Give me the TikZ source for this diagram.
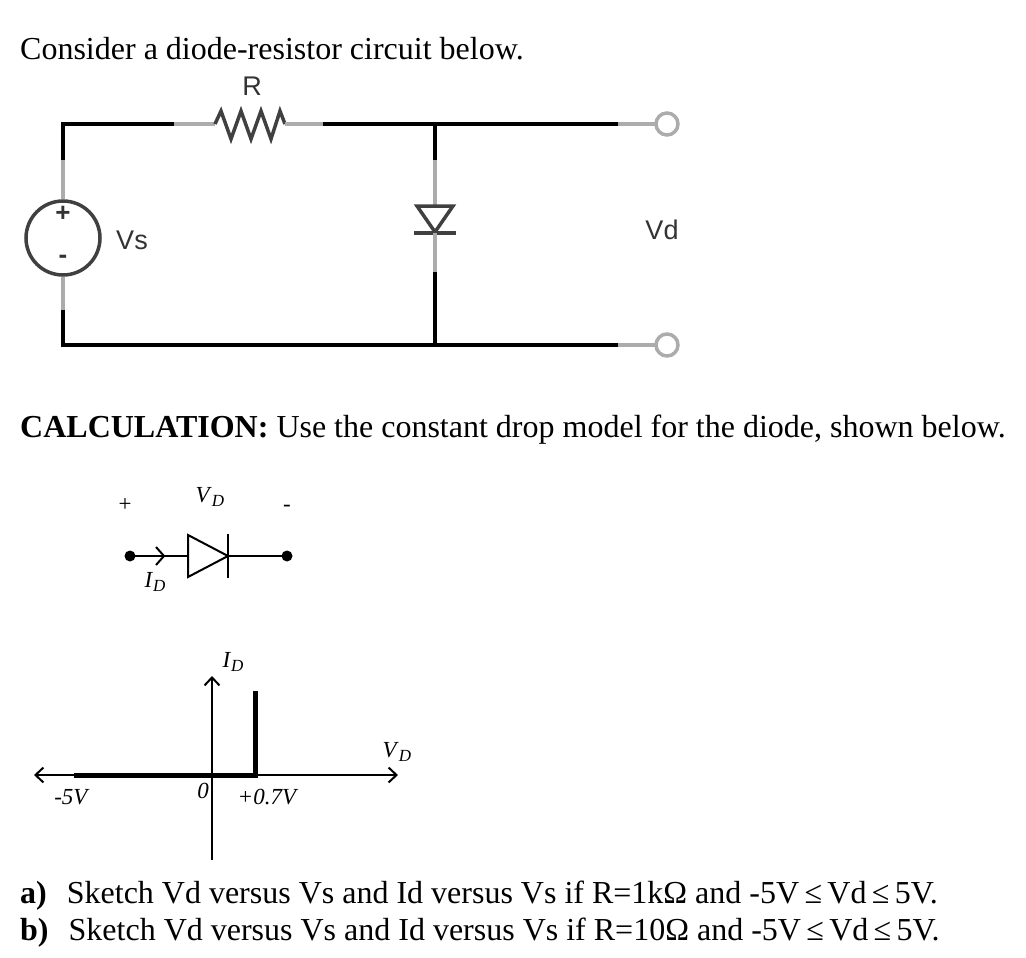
\documentclass[tikz,border=0pt]{standalone}
\usepackage{fontspec}
\setmainfont{Liberation Serif}
\newfontfamily\circfont{Liberation Sans}
\usetikzlibrary{arrows.meta,shapes.geometric}
\newcommand{\vsubs}[2]{\textit{#1}\raisebox{-0.35ex}{\fontsize{17}{17}\selectfont\textit{#2}}}
\begin{document}
\begin{tikzpicture}[x=1pt,y=-1pt,
  wire/.style={line width=4pt,black},
  lead/.style={line width=4pt,gray!65},
  sym/.style={line width=3.5pt,black!75},
  mw/.style={line width=2pt,black},
  big/.style={font=\fontsize{32}{34}\selectfont,inner sep=0pt},
  lab/.style={font=\circfont\fontsize{27}{28}\selectfont,inner sep=0pt,text=black!80},
  small/.style={font=\fontsize{23}{25}\selectfont,inner sep=0pt},
  barb/.style={line width=2pt,-{Straight Barb[length=8pt,width=15pt]}}]
\useasboundingbox (0,0) rectangle (1026,958);
\node[big,anchor=base west] (t1) at (20,60) {Consider a diode-resistor circuit below.};
% circuit
\coordinate (tl) at (63,124); \coordinate (bl) at (63,345);
\coordinate (jt) at (435,124); \coordinate (jb) at (435,345);
\draw[wire] (63,160) -- (tl) -- (174,124);
\draw[lead] (174,124) -- (215,124);
\draw[sym,line join=miter] (215,124) -- (221,111) -- (231,139) -- (241,111) -- (251,139) -- (261,111) -- (271,139) -- (280,111) -- (285,124);
\draw[lead] (285,124) -- (323,124);
\draw[wire] (323,124) -- (jt) -- (618,124);
\draw[lead] (618,124) -- (655,124);
\node[circle,draw=gray!65,line width=3.5pt,minimum size=22pt,inner sep=0pt] (o1) at (667,124) {};
\node[circle,draw=black!75,line width=3.5pt,minimum size=74pt,inner sep=0pt] (vs) at (63,238) {};
\draw[lead] (63,160) -- (vs.north);
\node[font=\bfseries\circfont\fontsize{26}{26}\selectfont,text=black!80] at (63,214) {+};
\node[font=\bfseries\circfont\fontsize{26}{26}\selectfont,text=black!80] at (63,259) {-};
\draw[lead] (vs.south) -- (63,310);
\draw[wire] (63,310) -- (bl) -- (618,345);
\draw[lead] (618,345) -- (655,345);
\node[circle,draw=gray!65,line width=3.5pt,minimum size=22pt,inner sep=0pt] (o2) at (667,345) {};
\node[lab] (vsl) at (132,240) {Vs};
\node[lab] (rl) at (252,86) {R};
\node[lab] (vdl) at (662,230) {Vd};
% diode branch
\draw[wire] (jt) -- (435,160);
\draw[lead] (435,160) -- (435,206);
\draw[sym,line join=miter] (417,206) -- (453,206) -- (435,232) -- cycle;
\draw[sym] (414,233) -- (456,233);
\draw[lead] (435,233) -- (435,272);
\draw[wire] (435,272) -- (jb);
% calculation
\node[big,anchor=base west] (t2) at (20,437) {\textbf{CALCULATION:} Use the constant drop model for the diode, shown below.};
% model
\node[small] at (125,505) {+};
\node[small] at (287,508) {-};
\node[small] at (210,497) {\vsubs{V}{D}};
\fill (130,556) circle (5.5pt) coordinate (da);
\fill (287,556) circle (5.5pt) coordinate (db);
\draw[mw] (da) -- (188,556);
\draw[mw] (228,556) -- (db);
\draw[mw] (156,547) -- (164,556) -- (156,565);
\draw[mw,line join=miter] (188,535) -- (188,577) -- (228,556) -- cycle;
\draw[mw] (228,534) -- (228,578);
\node[small] at (155,582) {\vsubs{I}{D}};
% graph
\coordinate (o) at (212,775);
\draw[barb,{Straight Barb[length=8pt,width=15pt]}-{Straight Barb[length=8pt,width=15pt]}] (34,775) -- (398,775);
\draw[barb] (212,860) -- (212,676);
\draw[line width=5pt] (74,775) -- (257,775);
\draw[line width=5pt] (255,777.5) -- (255,691);
\node[small] at (233,662) {\vsubs{I}{D}};
\node[small] at (397,752) {\vsubs{V}{D}};
\node[small] at (72,797) {\textit{-5V}};
\node[small] at (203,791) {\textit{0}};
\node[small] at (268,797) {\textit{+0.7V}};
% questions
\node[big,anchor=base west] (qa) at (20,903) {\textbf{a)}\hspace{20pt}Sketch Vd versus Vs and Id versus Vs if R=1kΩ and -5V\,≤\,Vd\,≤\,5V.};
\node[big,anchor=base west] (qb) at (20,940) {\textbf{b)}\hspace{20pt}Sketch Vd versus Vs and Id versus Vs if R=10Ω and -5V\,≤\,Vd\,≤\,5V.};
\end{tikzpicture}
\end{document}
